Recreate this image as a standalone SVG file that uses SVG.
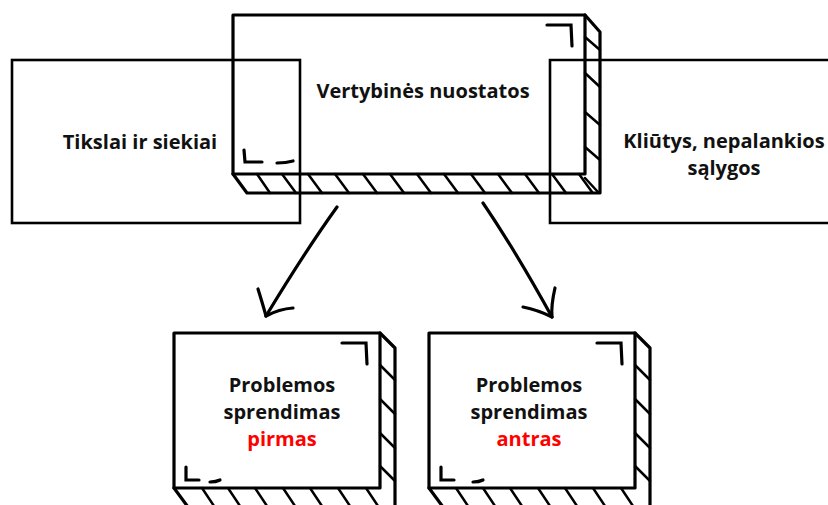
<svg xmlns="http://www.w3.org/2000/svg" width="828" height="505" viewBox="0 0 828 505">
<style>
.box{fill:none;stroke:#000;stroke-width:3.2;stroke-linejoin:round;stroke-linecap:round}
.flat{fill:none;stroke:#000;stroke-width:2.6}
.h{stroke:#000;stroke-width:2.5;stroke-linecap:round;fill:none}
.mk{stroke:#000;stroke-width:3.2;stroke-linecap:round;fill:none}
.t{font-family:"Open Sans","Noto Sans",sans-serif;font-weight:bold;font-size:20px;fill:#111;text-anchor:middle}
.r{fill:#ff0000}
.arr{stroke:#000;stroke-width:3.2;fill:none;stroke-linecap:round;stroke-linejoin:round}
</style>
<rect width="828" height="505" fill="#fff"/>

<g id="node-vertybines">
  <path class="box" d="M233,15 L585,15 L585,174 L233,174 Z"/>
  <path class="box" d="M585,15 L600,32 L600,193 L247,193 L233,174"/>
  <path class="h" d="M585,37 L600,50 M585,73 L600,87 M585,112 L600,125 M585,147 L600,160 M585,178 L598,192"/>
  <path class="h" d="M257,174 L270,193 M282,174 L296,193 M308,174 L322,193 M335,174 L349,193 M363,174 L377,193 M390,174 L404,193 M417,174 L431,193 M444,174 L458,193 M471,174 L485,193 M498,174 L512,193 M525,174 L539,193 M552,174 L566,193 M579,174 L592,192"/>
  <path class="mk" d="M547,25 L571,25 L572,46"/>
  <path class="mk" d="M244,150 L245,162 L262,162 M277,163 Q286,163 293,161"/>
  <text class="t" x="423" y="98">Vertybinės nuostatos</text>
</g>

<g id="node-tikslai">
  <rect class="flat" x="12" y="60" width="288" height="163"/>
  <text class="t" x="140" y="149">Tikslai ir siekiai</text>
</g>

<g id="node-kliutys">
  <path class="flat" d="M830,60 L550,60 L550,223 L830,223"/>
  <text class="t" x="724" y="148">Kliūtys, nepalankios</text>
  <text class="t" x="724" y="175">sąlygos</text>
</g>

<g id="node-pirmas">
  <path class="box" d="M174,333 L380,333 L380,488 L174,488 Z"/>
  <path class="box" d="M380,333 L395,348 L395,507 M174,488 L188,507"/>
  <path class="h" d="M380,365 L395,380 M380,399 L395,414 M380,433 L395,448 M380,466 L395,481"/>
  <path class="h" d="M202,488 L214,506 M228,488 L240,506 M255,488 L267,506 M283,488 L295,506 M310,488 L322,506 M338,488 L350,506 M366,488 L378,506"/>
  <path class="mk" d="M342,343 L366,343 L367,364"/>
  <path class="mk" d="M186,467 L186,480 L199,480 M210,482 Q216,482 220,480"/>
  <text class="t" x="282" y="392">Problemos</text>
  <text class="t" x="282" y="419">sprendimas</text>
  <text class="t r" x="282" y="446">pirmas</text>
</g>

<g id="node-antras">
  <path class="box" d="M429,333 L635,333 L635,488 L429,488 Z"/>
  <path class="box" d="M635,333 L650,348 L650,507 M429,488 L443,507"/>
  <path class="h" d="M635,365 L650,380 M635,399 L650,414 M635,433 L650,448 M635,466 L650,481"/>
  <path class="h" d="M456,488 L468,506 M483,488 L495,506 M510,488 L522,506 M538,488 L550,506 M565,488 L577,506 M593,488 L605,506 M621,488 L633,506"/>
  <path class="mk" d="M597,343 L621,343 L622,364"/>
  <path class="mk" d="M441,467 L441,480 L454,480 M473,482 Q479,482 483,480"/>
  <text class="t" x="529" y="392">Problemos</text>
  <text class="t" x="529" y="419">sprendimas</text>
  <text class="t r" x="529" y="446">antras</text>
</g>

<g id="connectors">
  <path class="arr" d="M337,207 Q306,250 266,316"/>
  <path class="arr" d="M258,289 Q263,305 266,316 Q279,309 293,308"/>
  <path class="arr" d="M483,203 Q515,250 552,317"/>
  <path class="arr" d="M555,288 Q551,305 552,317 Q538,310 523,307"/>
</g>
</svg>
